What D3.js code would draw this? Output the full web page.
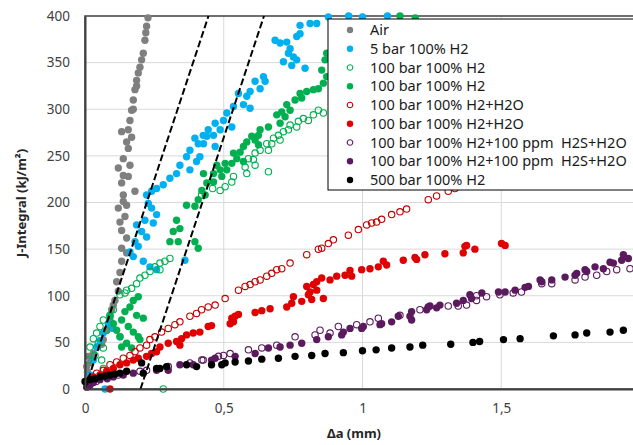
<!DOCTYPE html>
<html>
<head>
<meta charset="utf-8">
<script src="https://cdn.jsdelivr.net/npm/d3@7"></script>
<style>
  body { margin: 0; background: #fff; }
  svg text { font-family: "Noto Sans", "Open Sans", sans-serif; }
</style>
</head>
<body>
<div id="chart"></div>
<script>

// data: [delta a (mm), J (kJ/m2)]
var air = [[0.006,24],[0.009,18],[0.018,28],[0.012,35],[0.024,32],[0.030,38],[0.045,45],[0.060,48],[0.066,53],
	[0.078,63],[0.090,74],[0.096,85],[0.102,90],[0.108,95],[0.120,105],[0.114,115],[0.126,125],[0.132,137],
	[0.150,146],[0.132,151],[0.150,162],[0.132,170],[0.126,179],[0.144,185],[0.120,194],[0.150,197],[0.138,201],
	[0.138,208],[0.180,212],[0.132,221],[0.156,228],[0.138,229],[0.162,240],[0.120,237],[0.138,247],[0.156,258],
	[0.150,265],[0.168,270],[0.156,278],[0.132,276],[0.162,288],[0.168,299],[0.174,300],[0.174,310],[0.180,321],
	[0.186,325],[0.186,331],[0.192,339],[0.198,345],[0.204,353],[0.210,360],[0.216,374],[0.219,382],[0.222,389],[0.227,398]];

var bar5 = [[0.006,5],[0.018,15],[0.030,31],[0.042,45],[0.054,52],[0.066,60],[0.100,65],[0.084,70],[0.126,56],[0.072,0],
	[0.162,147],[0.174,142],[0.210,137],[0.234,131],[0.258,128],[0.360,138],[0.180,158],[0.192,153],[0.204,169],
	[0.222,163],[0.186,176],[0.216,181],[0.246,178],[0.258,187],[0.240,194],[0.228,199],[0.222,208],[0.240,212],
	[0.258,215],[0.282,219],[0.306,226],[0.330,231],[0.342,240],[0.366,249],[0.378,256],[0.408,263],[0.396,269],
	[0.426,272],[0.444,278],[0.378,235],[0.402,244],[0.414,249],[0.427,263],[0.439,271],[0.469,260],[0.463,272],
	[0.469,285],[0.487,278],[0.529,281],[0.499,288],[0.511,296],[0.535,303],[0.553,317],[0.571,305],[0.595,301],
	[0.583,314],[0.595,319],[0.631,322],[0.613,330],[0.649,330],[0.643,335],[0.793,344],[0.745,347],[0.763,353],
	[0.715,351],[0.751,356],[0.733,360],[0.739,365],[0.727,372],[0.703,371],[0.685,374],[0.763,378],[0.775,381],
	[0.775,390],[0.811,392],[0.835,392],[0.877,399],[0.950,400],[1.000,399],[1.090,400]];

var bar100open = [[0.012,31],[0.018,45],[0.030,54],[0.036,36],[0.042,60],[0.048,49],[0.054,67],[0.060,31],[0.066,22],
	[0.066,44],[0.066,74],[0.078,63],[0.090,79],[0.102,85],[0.126,101],[0.144,103],[0.150,106],[0.168,108],[0.186,113],
	[0.198,119],[0.216,122],[0.234,126],[0.270,128],[0.252,131],[0.270,135],[0.288,137],[0.306,140],[0.282,0],
	[0.420,208],[0.460,215],[0.487,213],[0.505,217],[0.529,222],[0.535,228],[0.583,231],[0.577,238],[0.613,240],
	[0.589,247],[0.607,246],[0.613,253],[0.631,256],[0.661,256],[0.655,263],[0.673,263],[0.679,269],[0.703,267],
	[0.697,272],[0.715,276],[0.733,278],[0.739,283],[0.763,281],[0.769,287],[0.787,290],[0.805,288],[0.823,294],
	[0.841,299],[0.859,296],[0.661,233]];

var bar100 = [[0.090,78],[0.102,70],[0.114,63],[0.126,56],[0.132,45],[0.132,74],[0.144,83],[0.150,49],[0.156,67],
	[0.162,88],[0.168,44],[0.174,95],[0.174,61],[0.186,79],[0.192,99],[0.192,56],[0.198,53],[0.210,76],[0.306,158],
	[0.318,169],[0.330,181],[0.336,158],[0.342,172],[0.366,197],[0.396,196],[0.396,158],[0.408,151],[0.408,203],
	[0.421,213],[0.433,208],[0.439,221],[0.427,231],[0.463,222],[0.463,231],[0.475,240],[0.487,235],[0.493,228],
	[0.511,235],[0.505,242],[0.529,242],[0.547,247],[0.571,244],[0.535,253],[0.559,254],[0.571,260],[0.583,265],
	[0.625,262],[0.613,267],[0.601,271],[0.625,272],[0.631,278],[0.661,281],[0.703,285],[0.721,292],[0.691,294],
	[0.709,297],[0.739,299],[0.727,305],[0.757,310],[0.781,312],[0.775,317],[0.799,319],[0.823,321],[0.841,322],
	[0.859,328],[0.871,335],[0.853,342],[0.865,353],[0.871,360],[1.135,400],[1.190,398]];

var waterOpen = [[0.018,11],[0.042,17],[0.066,20],[0.090,26],[0.114,29],[0.138,33],[0.162,36],[0.180,40],[0.198,44],
	[0.222,47],[0.234,53],[0.252,56],[0.276,61],[0.300,65],[0.324,69],[0.342,72],[0.378,78],[0.402,81],[0.420,85],
	[0.444,88],[0.469,90],[0.505,97],[0.553,106],[0.577,110],[0.595,112],[0.613,115],[0.631,117],[0.655,121],
	[0.673,124],[0.691,128],[0.709,129],[0.739,135],[0.799,144],[0.841,150],[0.853,151],[0.877,156],[0.895,160],
	[0.949,165],[0.985,171],[1.015,176],[1.033,178],[1.051,179],[1.069,182],[1.105,187],[1.135,190],[1.159,193],
	[1.237,203],[1.267,207],[1.309,212],[1.333,215],[1.370,219],[1.400,224]];

var water = [[0.030,13],[0.054,15],[0.078,19],[0.090,0],[0.102,22],[0.126,26],[0.150,28],[0.174,31],[0.192,33],
	[0.222,35],[0.240,38],[0.258,40],[0.270,45],[0.300,49],[0.330,51],[0.342,47],[0.348,54],[0.366,58],[0.390,60],
	[0.414,61],[0.444,67],[0.456,68],[0.523,70],[0.535,72],[0.529,76],[0.541,78],[0.553,80],[0.613,82],[0.637,84],
	[0.667,86],[0.727,88],[0.745,92],[0.751,99],[0.781,94],[0.817,96],[0.859,97],[0.805,101],[0.811,104],[0.835,106],
	[0.799,110],[0.823,112],[0.835,115],[0.853,119],[0.883,117],[0.907,121],[0.937,122],[0.955,127],[0.961,121],
	[0.997,128],[1.027,129],[1.057,131],[1.075,137],[1.087,133],[1.147,138],[1.189,141],[1.195,139],[1.225,144],
	[1.297,145],[1.363,146],[1.369,153],[1.375,154],[1.405,150],[1.501,156],[1.514,154]];

var sourOpen = [[0.010,3],[0.040,8],[0.080,12],[0.120,15],[0.198,19],[0.222,20],[0.300,24],[0.378,28],[0.426,31],
	[0.421,31],[0.481,35],[0.499,36],[0.523,38],[0.589,42],[0.637,44],[0.691,47],[0.757,56],[0.829,58],[0.847,63],
	[0.883,60],[0.913,67],[0.979,69],[1.027,72],[1.057,76],[1.135,79],[1.207,85],[1.309,89],[1.345,89],[1.375,90],
	[1.411,95],[1.411,100],[1.447,99],[1.495,101],[1.543,103],[1.573,104],[1.646,113],[1.682,113],[1.766,117],
	[1.802,120],[1.844,122],[1.880,126],[1.916,128],[1.964,129]];

var sour = [[0.006,2],[0.018,4],[0.030,7],[0.054,10],[0.080,11],[0.102,13],[0.138,15],[0.174,17],[0.258,20],[0.300,20],
	[0.342,26],[0.390,26],[0.456,31],[0.469,33],[0.541,35],[0.613,38],[0.661,44],[0.703,45],[0.739,47],[0.781,49],
	[0.835,53],[0.877,56],[0.925,58],[0.931,61],[0.955,65],[0.997,65],[1.003,67],[1.063,69],[1.069,70],[1.105,72],
	[1.129,78],[1.171,78],[1.177,74],[1.177,83],[1.231,85],[1.237,88],[1.243,89],[1.267,87],[1.279,90],[1.339,92],
	[1.363,95],[1.387,101],[1.393,97],[1.430,103],[1.490,104],[1.514,104],[1.550,106],[1.586,109],[1.598,110],
	[1.640,117],[1.646,115],[1.682,117],[1.730,120],[1.766,122],[1.772,124],[1.802,128],[1.808,126],[1.838,131],
	[1.868,129],[1.892,136],[1.904,135],[1.934,138],[1.940,144],[1.958,140]];

var bar500 = [[0.000,8],[0.018,10],[0.036,11],[0.054,13],[0.072,14],[0.090,15],[0.108,16],[0.126,17],[0.150,19],
	[0.204,28],[0.210,17],[0.258,22],[0.270,22],[0.294,24],[0.366,26],[0.402,24],[0.456,26],[0.493,26],[0.505,28],
	[0.541,29],[0.589,30],[0.637,32],[0.697,33],[0.757,35],[0.817,36],[0.865,38],[0.931,39],[1.000,41],[1.049,42],
	[1.105,44],[1.171,45],[1.217,47],[1.318,48],[1.398,50],[1.422,51],[1.508,53],[1.568,54],[1.688,57],[1.766,58],
	[1.808,60],[1.892,61],[1.940,63]];

// blunting line and 0.2 mm offset line
var bluntLine = [[0, 0], [0.445, 400]];
var offsetLine = [[0.2, 0], [0.645, 400]];

var xTicks = [0, 0.5, 1, 1.5];
var xTickLabels = ["0", "0,5", "1", "1,5"];
var yTicks = [0, 50, 100, 150, 200, 250, 300, 350, 400];

var seriesNames = ["Air", "5 bar 100% H2", "100 bar 100% H2", "100 bar 100% H2", "100 bar 100% H2+H2O",
	"100 bar 100% H2+H2O", "100 bar 100% H2+100 ppm  H2S+H2O", "100 bar 100% H2+100 ppm  H2S+H2O", "500 bar 100% H2"];
var seriesData = [air, bar5, bar100open, bar100, waterOpen, water, sourOpen, sour, bar500];
var seriesColors = ["#7f7f7f", "#00b0f0", "#00b050", "#00b050", "#c00000", "#e00000", "#5c1a5e", "#5c1a5e", "#000000"];
var seriesOpen = [false, false, true, false, true, false, true, false, false];

var width = 633,
	height = 445;

var svg = d3.select("#chart")
	.append("svg")
	.attr("width", width)
	.attr("height", height);

var x = d3.scaleLinear().domain([0, 2]).range([85, 640]);
var y = d3.scaleLinear().domain([0, 400]).range([389, 16]);

// gridlines
svg.append("g")
	.selectAll("line")
	.data(yTicks.slice(1, -1))
	.enter()
	.append("line")
	.attr("x1", 85).attr("x2", 640)
	.attr("y1", function(d){ return y(d); })
	.attr("y2", function(d){ return y(d); })
	.attr("stroke", "#d9d9d9");

svg.append("g")
	.selectAll("line")
	.data(xTicks.slice(1))
	.enter()
	.append("line")
	.attr("x1", function(d){ return x(d); })
	.attr("x2", function(d){ return x(d); })
	.attr("y1", y(0)).attr("y2", y(400))
	.attr("stroke", "#d9d9d9");

// frame
svg.append("rect")
	.attr("x", x(0)).attr("y", y(400))
	.attr("width", x(2) - x(0)).attr("height", y(0) - y(400))
	.attr("fill", "none")
	.attr("stroke", "#404040")
	.attr("stroke-width", 1.5);

// points
seriesData.forEach(function(data, i) {
	svg.append("g")
		.selectAll("circle")
		.data(data)
		.enter()
		.append("circle")
		.attr("cx", function(d){ return x(d[0]); })
		.attr("cy", function(d){ return y(d[1]); })
		.attr("r", seriesOpen[i] ? 3.2 : 3.7)
		.attr("fill", seriesOpen[i] ? "none" : seriesColors[i])
		.attr("stroke", seriesOpen[i] ? seriesColors[i] : "none")
		.attr("stroke-width", 1.1);
});

var line = d3.line()
	.x(function(d){ return x(d[0]); })
	.y(function(d){ return y(d[1]); });

[bluntLine, offsetLine].forEach(function(l) {
	svg.append("path")
		.attr("d", line(l))
		.attr("fill", "none")
		.attr("stroke", "#000")
		.attr("stroke-width", 2)
		.attr("stroke-dasharray", "7,3");
});

// axes
var xAxis = svg.append("g")
	.attr("transform", "translate(0," + y(0) + ")")
	.call(d3.axisBottom(x).tickValues(xTicks).tickSize(0).tickPadding(14)
		.tickFormat(function(d, i){ return xTickLabels[i]; }));
xAxis.select(".domain").attr("stroke", "#404040").attr("stroke-width", 2);

var yAxis = svg.append("g")
	.attr("transform", "translate(" + x(0) + ",0)")
	.call(d3.axisLeft(y).tickValues(yTicks).tickSize(0).tickPadding(15));
yAxis.select(".domain").attr("stroke", "#404040").attr("stroke-width", 2);

svg.selectAll(".tick text")
	.attr("font-size", 13.5)
	.attr("fill", "#404040")
	.style("font-family", "'Noto Sans', sans-serif");

svg.append("text")
	.attr("x", 354).attr("y", 438)
	.attr("text-anchor", "middle")
	.attr("font-size", 13)
	.attr("font-weight", "bold")
	.attr("fill", "#262626")
	.text("Δa (mm)");

svg.append("text")
	.attr("transform", "translate(26,203) rotate(-90)")
	.attr("text-anchor", "middle")
	.attr("font-size", 13)
	.attr("font-weight", "bold")
	.attr("fill", "#262626")
	.text("J-Integral (kJ/m²)");

// legend
var legend = svg.append("g");

legend.append("rect")
	.attr("x", 328).attr("y", 19)
	.attr("width", 320).attr("height", 171)
	.attr("fill", "#fff")
	.attr("stroke", "#000");

var entry = legend.selectAll(".entry")
	.data(seriesNames)
	.enter()
	.append("g")
	.attr("class", "entry")
	.attr("transform", function(d, i){ return "translate(350," + (30 + i * 18.75) + ")"; });

entry.append("circle")
	.attr("r", function(d, i){ return seriesOpen[i] ? 2.8 : 3.2; })
	.attr("fill", function(d, i){ return seriesOpen[i] ? "none" : seriesColors[i]; })
	.attr("stroke", function(d, i){ return seriesOpen[i] ? seriesColors[i] : "none"; })
	.attr("stroke-width", 1.1);

entry.append("text")
	.attr("x", 20).attr("y", 5)
	.attr("font-size", 14.5)
	.attr("fill", "#1a1a1a")
	.style("white-space", "pre")
	.text(function(d){ return d; });

</script>
</body>
</html>
